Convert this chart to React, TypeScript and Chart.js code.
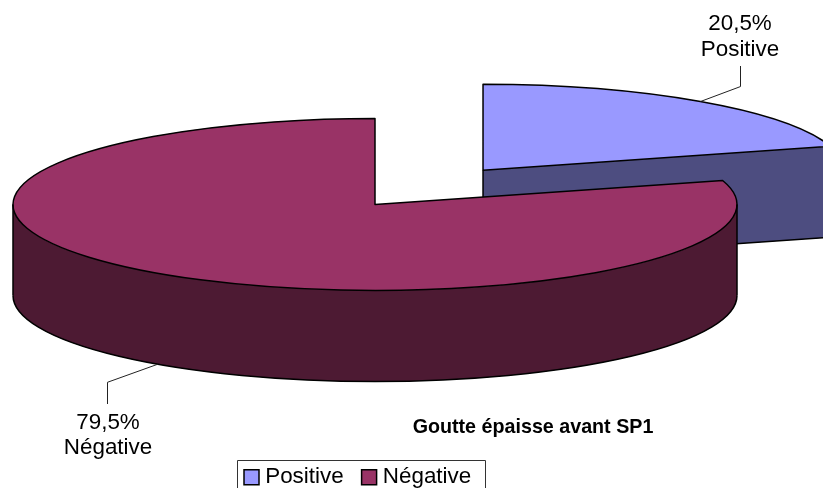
import React, { useEffect, useRef } from "react";
import { Chart, registerables, DoughnutController } from "chart.js";

Chart.register(...registerables);

const categories = ["Positive", "Négative"];
const seriesValues = [20.5, 79.5];
const topColors = ["#9999FF", "#993366"];
const sideColors = ["#4D4D80", "#4D1A33"];
const explodeRatio = [0.497, 0];

const FONT = "'Liberation Sans', Arial, sans-serif";
const GEO = { cx: 375, cy: 204.5, rx: 362, ry: 86, depth: 91 };
const LEADERS = [
  { dx: 39, dy: -15, lx: 740, tx: 740, upTo: 66, y1: 24, y2: 50 },
  { dx: -50, dy: 18, lx: 107, tx: 108, upTo: 404, y1: 423, y2: 448 },
];

const pie3d = {
  id: "pie3d",
  afterLayout(chart: any) {
    const lg = chart.legend;
    lg.left = 226;
    lg.right = 700;
    lg.top = 443;
    lg.bottom = 500;
    const t = chart.titleBlock;
    t.left = 412;
    t.right = 654;
    const h = t.bottom - t.top;
    t.top = 416;
    t.bottom = 416 + h;
  },
  beforeDatasetsDraw(chart: any) {
    const ctx = chart.ctx;
    const arcs = chart.getDatasetMeta(0).data;
    arcs.forEach((arc: any, i: number) => {
      const R = arc.outerRadius;
      const sx = GEO.rx / R;
      const sy = GEO.ry / R;
      const mid = (arc.startAngle + arc.endAngle) / 2;
      const ox = GEO.cx + Math.cos(mid) * explodeRatio[i] * GEO.rx;
      const oy = GEO.cy + Math.sin(mid) * explodeRatio[i] * GEO.ry;
      const place = (dy: number) => {
        ctx.translate(ox, oy + dy);
        ctx.scale(sx, sy);
        ctx.translate(-arc.x, -arc.y);
      };
      const slicePath = () => {
        ctx.beginPath();
        ctx.moveTo(arc.x, arc.y);
        ctx.arc(arc.x, arc.y, R, arc.startAngle, arc.endAngle);
        ctx.closePath();
      };
      const px = (a: number) => ox + Math.cos(a) * GEO.rx;
      const py = (a: number) => oy + Math.sin(a) * GEO.ry;
      const a0 = Math.max(arc.startAngle, 0);
      const a1 = Math.min(arc.endAngle, Math.PI);

      // side wall
      ctx.fillStyle = sideColors[i];
      ctx.save();
      place(GEO.depth);
      slicePath();
      ctx.restore();
      ctx.fill();
      if (a1 > a0) {
        ctx.save();
        place(0);
        ctx.beginPath();
        ctx.arc(arc.x, arc.y, R, a0, a1);
        ctx.restore();
        ctx.save();
        ctx.translate(0, GEO.depth);
        place(0);
        ctx.arc(arc.x, arc.y, R, a1, a0, true);
        ctx.restore();
        ctx.closePath();
        ctx.fill();
      }
      if (arc.endAngle < 0) {
        const e = arc.endAngle;
        ctx.beginPath();
        ctx.moveTo(ox, oy);
        ctx.lineTo(ox, oy + GEO.depth);
        ctx.lineTo(px(e), py(e) + GEO.depth);
        ctx.lineTo(px(e), py(e));
        ctx.closePath();
        ctx.fill();
      }
      // top face, by the library's arc element
      ctx.save();
      place(0);
      arc.draw(ctx);
      ctx.restore();

      // outlines
      ctx.strokeStyle = "#000";
      ctx.lineWidth = 1.5;
      ctx.lineJoin = "round";
      if (a1 > a0) {
        ctx.save();
        place(GEO.depth);
        ctx.beginPath();
        ctx.arc(arc.x, arc.y, R, a0, a1);
        ctx.restore();
        ctx.stroke();
        ctx.beginPath();
        ctx.moveTo(px(a0), py(a0));
        ctx.lineTo(px(a0), py(a0) + GEO.depth);
        ctx.moveTo(px(a1), py(a1));
        ctx.lineTo(px(a1), py(a1) + GEO.depth);
        ctx.stroke();
      }
      if (arc.endAngle < 0) {
        const e = arc.endAngle;
        ctx.beginPath();
        ctx.moveTo(ox, oy);
        ctx.lineTo(ox, oy + GEO.depth);
        ctx.lineTo(px(e), py(e) + GEO.depth);
        ctx.lineTo(px(e), py(e));
        ctx.stroke();
      }
      ctx.save();
      place(0);
      slicePath();
      ctx.restore();
      ctx.stroke();
    });

    // leaders and labels
    arcs.forEach((arc: any, i: number) => {
      const mid = (arc.startAngle + arc.endAngle) / 2;
      const L = LEADERS[i];
      const ox = GEO.cx + Math.cos(mid) * explodeRatio[i] * GEO.rx;
      const oy = GEO.cy + Math.sin(mid) * explodeRatio[i] * GEO.ry;
      const ax = ox + Math.cos(mid) * GEO.rx;
      const ay = oy + Math.sin(mid) * GEO.ry + (Math.sin(mid) > 0 ? GEO.depth : 0);
      ctx.strokeStyle = "#222";
      ctx.lineWidth = 1;
      ctx.beginPath();
      ctx.moveTo(ax, ay);
      ctx.lineTo(L.lx + 0.5, ay + L.dy);
      ctx.lineTo(L.lx + 0.5, L.upTo);
      ctx.stroke();
      ctx.fillStyle = "#000";
      ctx.font = `22.4px ${FONT}`;
      ctx.textAlign = "center";
      ctx.textBaseline = "middle";
      ctx.fillText(`${String(seriesValues[i]).replace(".", ",")}%`, L.tx, L.y1);
      ctx.fillText(categories[i], L.tx, L.y2);
    });

    // legend frame
    ctx.strokeStyle = "#333";
    ctx.lineWidth = 1;
    ctx.strokeRect(237.5, 460.5, 248, 40);
    return false;
  },
};

export default function App() {
  const ref = useRef<HTMLCanvasElement>(null);
  useEffect(() => {
    const chart = new Chart(ref.current as HTMLCanvasElement, {
      type: "pie",
      data: {
        labels: categories,
        datasets: [
          {
            data: seriesValues,
            backgroundColor: topColors,
            borderWidth: 0,
            hoverOffset: 0,
          },
        ],
      },
      options: {
        animation: false,
        responsive: false,
        plugins: {
          tooltip: { enabled: false },
          legend: {
            position: "bottom",
            align: "start",
            labels: {
              color: "#000",
              font: { family: FONT, size: 22.4 },
              usePointStyle: true,
              pointStyle: "rect",
              boxWidth: 5,
              boxHeight: 15,
              padding: 23,
              generateLabels(c: any) {
                const base = (DoughnutController as any).overrides.plugins.legend.labels.generateLabels(c);
                return base.map((it: any) => ({ ...it, strokeStyle: "#000", lineWidth: 1.5 }));
              },
            },
          },
          title: {
            display: true,
            position: "bottom",
            text: "Goutte épaisse avant SP1",
            color: "#000",
            padding: 0,
            font: { family: FONT, size: 19.7, weight: "bold" },
          },
        },
      },
      plugins: [pie3d],
    } as any);
    return () => chart.destroy();
  }, []);
  return (
    <div style={{ position: "absolute", left: 0, top: 0, width: 823, height: 488, overflow: "hidden", background: "#fff" }}>
      <canvas ref={ref} width={823} height={488} style={{ display: "block" }} />
    </div>
  );
}
